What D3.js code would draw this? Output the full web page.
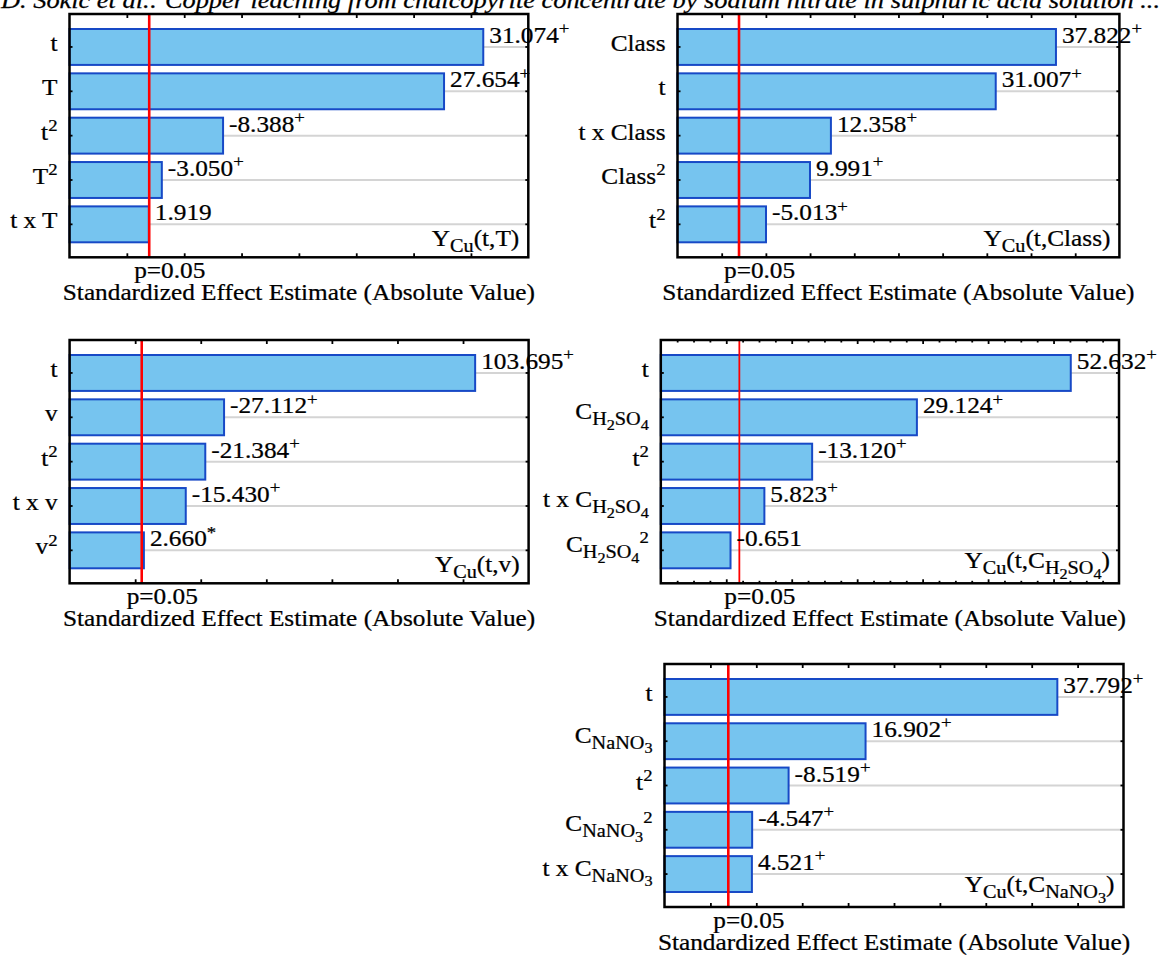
<!DOCTYPE html>
<html lang="en">
<head>
    <meta charset="UTF-8">
    <title>Pareto charts of standardized effects</title>
    <script src="https://d3js.org/d3.v7.min.js"></script>
    <style>
        body { margin: 0; background: #fff; }
        text { font-family: "Liberation Serif", "Times New Roman", serif; fill: #000; stroke: #000; stroke-width: 0.25px; white-space: pre; }
    </style>
</head>
<body>
<script>
    // panel 1: Y_Cu(t,T)
    p1Terms = ["t", "T", "t^{2}", "T^{2}", "t x T"]
    p1Values = [31.074, 27.654, -8.388, -3.050, 1.919]
    p1Marks = ["+", "+", "+", "+", ""]
    p1Model = "Y_{Cu}(t,T)"
    p1Domain = [-5, 35]
    p1Step = 5
    p1Crit = 1.95

    // panel 2: Y_Cu(t,Class)
    p2Terms = ["Class", "t", "t x Class", "Class^{2}", "t^{2}"]
    p2Values = [37.822, 31.007, 12.358, 9.991, -5.013]
    p2Marks = ["+", "+", "+", "+", "+"]
    p2Model = "Y_{Cu}(t,Class)"
    p2Domain = [-5, 45]
    p2Step = 5
    p2Crit = 1.96

    // panel 3: Y_Cu(t,v)
    p3Terms = ["t", "v", "t^{2}", "t x v", "v^{2}"]
    p3Values = [103.695, -27.112, -21.384, -15.430, 2.660]
    p3Marks = ["+", "+", "+", "+", "*"]
    p3Model = "Y_{Cu}(t,v)"
    p3Domain = [-20, 120]
    p3Step = 20
    p3Crit = 2.0

    // panel 4: Y_Cu(t,C_H2SO4)
    p4Terms = ["t", "C_{H_{2}SO_{4}}", "t^{2}", "t x C_{H_{2}SO_{4}}", "C_{H_{2}SO_{4}}^{2}"]
    p4Values = [52.632, 29.124, -13.120, 5.823, -0.651]
    p4Marks = ["+", "+", "+", "+", ""]
    p4Model = "Y_{Cu}(t,C_{H_{2}SO_{4}})"
    p4Domain = [-10, 60]
    p4Step = 10
    p4Crit = 2.0

    // panel 5: Y_Cu(t,C_NaNO3)
    p5Terms = ["t", "C_{NaNO_{3}}", "t^{2}", "C_{NaNO_{3}}^{2}", "t x C_{NaNO_{3}}"]
    p5Values = [37.792, 16.902, -8.519, -4.547, 4.521]
    p5Marks = ["+", "+", "+", "+", "+"]
    p5Model = "Y_{Cu}(t,C_{NaNO_{3}})"
    p5Domain = [-5, 45]
    p5Step = 5
    p5Crit = 1.95

    headerText = "D. Sokić et al.: Copper leaching from chalcopyrite concentrate by sodium nitrate in sulphuric acid solution ..."
    xTitle = "Standardized Effect Estimate (Absolute Value)"
    critLabel = "p=0.05"

    FS = 23      // base font size
    SX = 1.1     // the scanned figure is a bit stretched horizontally

    svg = d3.select("body")
        .append("svg")
        .attr("width", 1165)
        .attr("height", 955)

    // split "C_{H_{2}SO_{4}}^{2}" into runs with a baseline shift and a size
    function parse(s, shift, size, out) {
        let buf = "", i = 0
        const flush = () => { if (buf) out.push({text: buf, shift: shift, size: size}); buf = "" }
        while (i < s.length) {
            const c = s[i]
            if ((c == "_" || c == "^") && s[i + 1] == "{") {
                flush()
                let depth = 1, j = i + 2
                while (depth > 0) {
                    if (s[j] == "{") depth++
                    else if (s[j] == "}") depth--
                    j++
                }
                const inner = s.slice(i + 2, j - 1)
                if (c == "_") parse(inner, shift + size * 0.26, size * 0.8, out)
                else parse(inner, shift - size * 0.38, size * 0.74, out)
                i = j
            } else {
                buf += c
                i++
            }
        }
        flush()
        return out
    }

    function richText(g, x, y, anchor, str, size) {
        const t = g.append("text")
            .attr("transform", "translate(" + x + "," + y + ") scale(" + SX + ",1)")
            .attr("text-anchor", anchor)
            .style("font-size", size + "px")
        let cur = 0
        parse(str, 0, size, []).forEach((p) => {
            t.append("tspan")
                .attr("dy", p.shift - cur)
                .style("font-size", p.size + "px")
                .text(p.text)
            cur = p.shift
        })
        return t
    }

    function fmt(v) {
        return (v < 0 ? "-" : "") + Math.abs(v).toFixed(3)
    }

    function drawPanel(box, terms, values, marks, model, domain, step, crit, minor, redWidth) {
        const g = svg.append("g")
        const data = terms.map((d, i) => ({term: d, value: values[i], mark: marks[i]}))

        const x = d3.scaleLinear()
            .domain(domain)
            .range([box.x0, box.x1])

        const y = d3.scaleBand()
            .domain(terms)
            .range([box.y0 + 15, box.y1 - 15])
            .paddingInner(0.19)
            .paddingOuter(0)

        // grid lines
        g.selectAll("line.grid")
            .data(data)
            .enter()
            .append("line")
            .attr("class", "grid")
            .attr("x1", box.x0)
            .attr("x2", box.x1)
            .attr("y1", (d) => y(d.term) + y.bandwidth() / 2)
            .attr("y2", (d) => y(d.term) + y.bandwidth() / 2)
            .attr("stroke", "#d4d4d4")
            .attr("stroke-width", 2)

        // bars start at the axis minimum, as in the original software
        g.selectAll("rect.bar")
            .data(data)
            .enter()
            .append("rect")
            .attr("class", "bar")
            .attr("x", x(domain[0]))
            .attr("y", (d) => y(d.term))
            .attr("width", (d) => x(Math.abs(d.value)) - x(domain[0]))
            .attr("height", y.bandwidth())
            .attr("fill", "#76c4ef")
            .attr("stroke", "#1749c6")
            .attr("stroke-width", 2)

        // significance line
        g.append("line")
            .attr("x1", x(crit))
            .attr("x2", x(crit))
            .attr("y1", box.y0)
            .attr("y2", box.y1)
            .attr("stroke", "#ff0000")
            .attr("stroke-width", redWidth)

        // frame
        g.append("rect")
            .attr("x", box.x0)
            .attr("y", box.y0)
            .attr("width", box.x1 - box.x0)
            .attr("height", box.y1 - box.y0)
            .attr("fill", "none")
            .attr("stroke", "#000")
            .attr("stroke-width", 2.5)

        // inward ticks
        const major = d3.range(Math.ceil((domain[0] + 1e-9) / step) * step, domain[1] - 1e-9, step)
        const minorTicks = minor ? d3.range(domain[0] + minor, domain[1] - 1e-9, minor).filter((v) => major.indexOf(v) < 0) : []
        const tickAxes = [
            [d3.axisTop(x).tickValues(major).tickSize(-4), box.y0],
            [d3.axisBottom(x).tickValues(major).tickSize(-4), box.y1],
            [d3.axisTop(x).tickValues(minorTicks).tickSize(-2.5), box.y0],
            [d3.axisBottom(x).tickValues(minorTicks).tickSize(-2.5), box.y1]
        ]
        tickAxes.forEach((a) => {
            g.append("g")
                .attr("transform", "translate(0," + a[1] + ")")
                .call(a[0].tickFormat(""))
                .call((s) => s.select(".domain").remove())
                .selectAll("line").attr("stroke-width", 1.8)
        })
        g.append("g")
            .attr("transform", "translate(" + box.x0 + ",0)")
            .call(d3.axisLeft(y).tickSize(-3).tickFormat(""))
            .call((s) => s.select(".domain").remove())
            .selectAll("line").attr("stroke-width", 1.8)
        g.append("g")
            .attr("transform", "translate(" + box.x1 + ",0)")
            .call(d3.axisRight(y).tickSize(-3).tickFormat(""))
            .call((s) => s.select(".domain").remove())
            .selectAll("line").attr("stroke-width", 1.8)

        // term labels
        data.forEach((d) => {
            const cy = y(d.term) + y.bandwidth() / 2
            const off = d.term.indexOf("_") >= 0 ? 1.5 : 4
            richText(g, box.x0 - 12, cy + off, "end", d.term, FS)
        })

        // value labels
        data.forEach((d) => {
            const cy = y(d.term) + y.bandwidth() / 2
            const lab = fmt(d.value) + (d.mark ? "^{" + d.mark + "}" : "")
            richText(g, x(Math.abs(d.value)) + 6, cy - 4, "start", lab, FS)
        })

        // model name, nested subscripts need more room above the frame
        const deep = model.indexOf("_{", model.indexOf("_{") + 1) >= 0
        richText(g, box.x1 - 9, box.y1 - (deep ? 15 : 11), "end", model, FS)

        // axis texts
        richText(g, x(crit) - 15, box.y1 + 21, "start", critLabel, FS)
        richText(g, (box.x0 + box.x1) / 2, box.y1 + 43, "middle", xTitle, FS)
    }

    // running header, cut at the top edge of the scan
    svg.append("text")
        .attr("x", 1)
        .attr("y", 8)
        .attr("textLength", 1159)
        .attr("lengthAdjust", "spacingAndGlyphs")
        .style("font-size", FS + "px")
        .style("font-style", "italic")
        .text(headerText)

    drawPanel({x0: 69.5, x1: 528.3, y0: 14, y1: 257.3}, p1Terms, p1Values, p1Marks, p1Model, p1Domain, p1Step, p1Crit, 0, 2.6)
    drawPanel({x0: 677.5, x1: 1119.4, y0: 14, y1: 257.3}, p2Terms, p2Values, p2Marks, p2Model, p2Domain, p2Step, p2Crit, 0, 2.6)
    drawPanel({x0: 69.6, x1: 528.6, y0: 340, y1: 583.3}, p3Terms, p3Values, p3Marks, p3Model, p3Domain, p3Step, p3Crit, 0, 2.6)
    drawPanel({x0: 660.8, x1: 1119, y0: 340, y1: 583.3}, p4Terms, p4Values, p4Marks, p4Model, p4Domain, p4Step, p4Crit, 2.5, 1.8)
    drawPanel({x0: 664.5, x1: 1123.5, y0: 664, y1: 907}, p5Terms, p5Values, p5Marks, p5Model, p5Domain, p5Step, p5Crit, 0, 2.6)
</script>
</body>
</html>
